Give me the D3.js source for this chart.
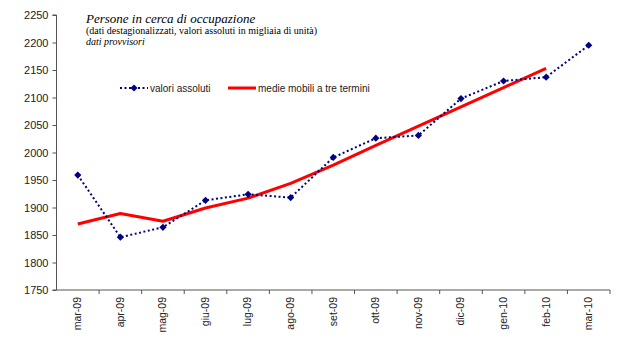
<!DOCTYPE html>
<html>
<head>
<meta charset="utf-8">
<script src="https://cdn.jsdelivr.net/npm/d3@7"></script>
<style>
  body { margin: 0; background: #fff; }
  svg { display: block; }
</style>
</head>
<body>
<svg id="chart" width="630" height="347"></svg>
<script>
const categories = ["mar-09","apr-09","mag-09","giu-09","lug-09","ago-09","set-09","ott-09","nov-09","dic-09","gen-10","feb-10","mar-10"];
const valoriAssoluti = [1959, 1846, 1864, 1913, 1924, 1918, 1991, 2026, 2031, 2098, 2130, 2137, 2195];
const medieMobili = [1870, 1889, 1875, 1899, 1917, 1944, 1977, 2013, 2048, 2083, 2118, 2153, null];
const yTicks = [1750, 1800, 1850, 1900, 1950, 2000, 2050, 2100, 2150, 2200, 2250];
const titleText = "Persone in cerca di occupazione";
const subtitleText = "(dati destagionalizzati, valori assoluti in migliaia di unità)";
const noteText = "dati provvisori";
const legendLabels = ["valori assoluti", "medie mobili a tre termini"];

const svg = d3.select("#chart");
const plotLeft = 56.5, plotRight = 610, plotTop = 15, plotBottom = 290;

const x = d3.scaleBand().domain(categories).range([plotLeft, plotRight]).padding(0);
const y = d3.scaleLinear().domain([1750, 2250]).range([plotBottom, plotTop]);
const cx = d => x(d) + x.bandwidth() / 2;

// Y axis
const yAxis = svg.append("g")
  .attr("transform", `translate(${plotLeft},0)`)
  .call(d3.axisLeft(y).tickValues(yTicks).tickSize(4).tickPadding(4).tickFormat(d3.format("d")));
yAxis.selectAll("path,line").attr("stroke", "#555").attr("stroke-width", 1);
yAxis.select(".domain").attr("d", `M-4,${plotBottom}H0V${plotTop}H-4`);
yAxis.selectAll("text").attr("font-family", "Arial, 'Liberation Sans', sans-serif").attr("font-size", 11).attr("fill", "#222");

// X axis
const xAxis = svg.append("g")
  .attr("transform", `translate(0,${plotBottom})`)
  .call(d3.axisBottom(x).tickSize(0).tickPadding(7));
xAxis.select(".domain").attr("stroke", "#555").attr("d", `M${plotLeft},0H${plotRight}`);
xAxis.selectAll("text")
  .attr("font-family", "Arial, 'Liberation Sans', sans-serif")
  .attr("font-size", 10.5)
  .attr("fill", "#222")
  .attr("text-anchor", "end")
  .attr("dy", "0.32em")
  .attr("transform", "translate(0,7) rotate(-90)")
  .attr("x", 0).attr("y", 0);
// boundary tick marks
const boundaries = categories.map(c => x(c)).slice(1).concat([plotRight]);
xAxis.selectAll(".bt").data(boundaries).enter().append("line")
  .attr("class", "bt")
  .attr("x1", d => d).attr("x2", d => d)
  .attr("y1", 0).attr("y2", 4)
  .attr("stroke", "#555");

// Red moving average line
const redLine = d3.line()
  .defined(d => d.v !== null)
  .x(d => cx(d.c)).y(d => y(d.v));
svg.append("path")
  .datum(categories.map((c, i) => ({c, v: medieMobili[i]})))
  .attr("d", redLine)
  .attr("fill", "none")
  .attr("stroke", "#ff0000")
  .attr("stroke-width", 3)
  .attr("stroke-linejoin", "round");

// Blue dotted line
const blueData = categories.map((c, i) => ({c, v: valoriAssoluti[i]}));
svg.append("path")
  .datum(blueData)
  .attr("d", d3.line().x(d => cx(d.c)).y(d => y(d.v)))
  .attr("fill", "none")
  .attr("stroke", "#000080")
  .attr("stroke-width", 2)
  .attr("stroke-dasharray", "2,2.5");

const diamond = "M0,-3.6L3.6,0L0,3.6L-3.6,0Z";
svg.selectAll(".pt").data(blueData).enter().append("path")
  .attr("class", "pt")
  .attr("d", diamond)
  .attr("transform", d => `translate(${cx(d.c)},${y(d.v)})`)
  .attr("fill", "#000080");

// Titles
svg.append("text").attr("x", 86).attr("y", 23)
  .attr("font-family", "'Times New Roman', 'Liberation Serif', serif")
  .attr("font-style", "italic").attr("font-size", 13).attr("fill", "#000")
  .text(titleText);
svg.append("text").attr("x", 86).attr("y", 34)
  .attr("font-family", "'Times New Roman', 'Liberation Serif', serif")
  .attr("font-size", 10).attr("fill", "#000")
  .text(subtitleText);
svg.append("text").attr("x", 86).attr("y", 45)
  .attr("font-family", "'Times New Roman', 'Liberation Serif', serif")
  .attr("font-style", "italic").attr("font-size", 10).attr("fill", "#000")
  .text(noteText);

// Legend
const lg = svg.append("g");
lg.append("line").attr("x1", 120).attr("x2", 148).attr("y1", 88).attr("y2", 88)
  .attr("stroke", "#000080").attr("stroke-width", 2).attr("stroke-dasharray", "2,2.5");
lg.append("path").attr("d", diamond).attr("transform", "translate(134,88)").attr("fill", "#000080");
lg.append("text").attr("x", 150).attr("y", 91.5)
  .attr("font-family", "Arial, 'Liberation Sans', sans-serif").attr("font-size", 10).attr("fill", "#222")
  .text(legendLabels[0]);
lg.append("line").attr("x1", 228).attr("x2", 256).attr("y1", 88).attr("y2", 88)
  .attr("stroke", "#ff0000").attr("stroke-width", 3);
lg.append("text").attr("x", 258).attr("y", 91.5)
  .attr("font-family", "Arial, 'Liberation Sans', sans-serif").attr("font-size", 10).attr("fill", "#222")
  .text(legendLabels[1]);
</script>
</body>
</html>
